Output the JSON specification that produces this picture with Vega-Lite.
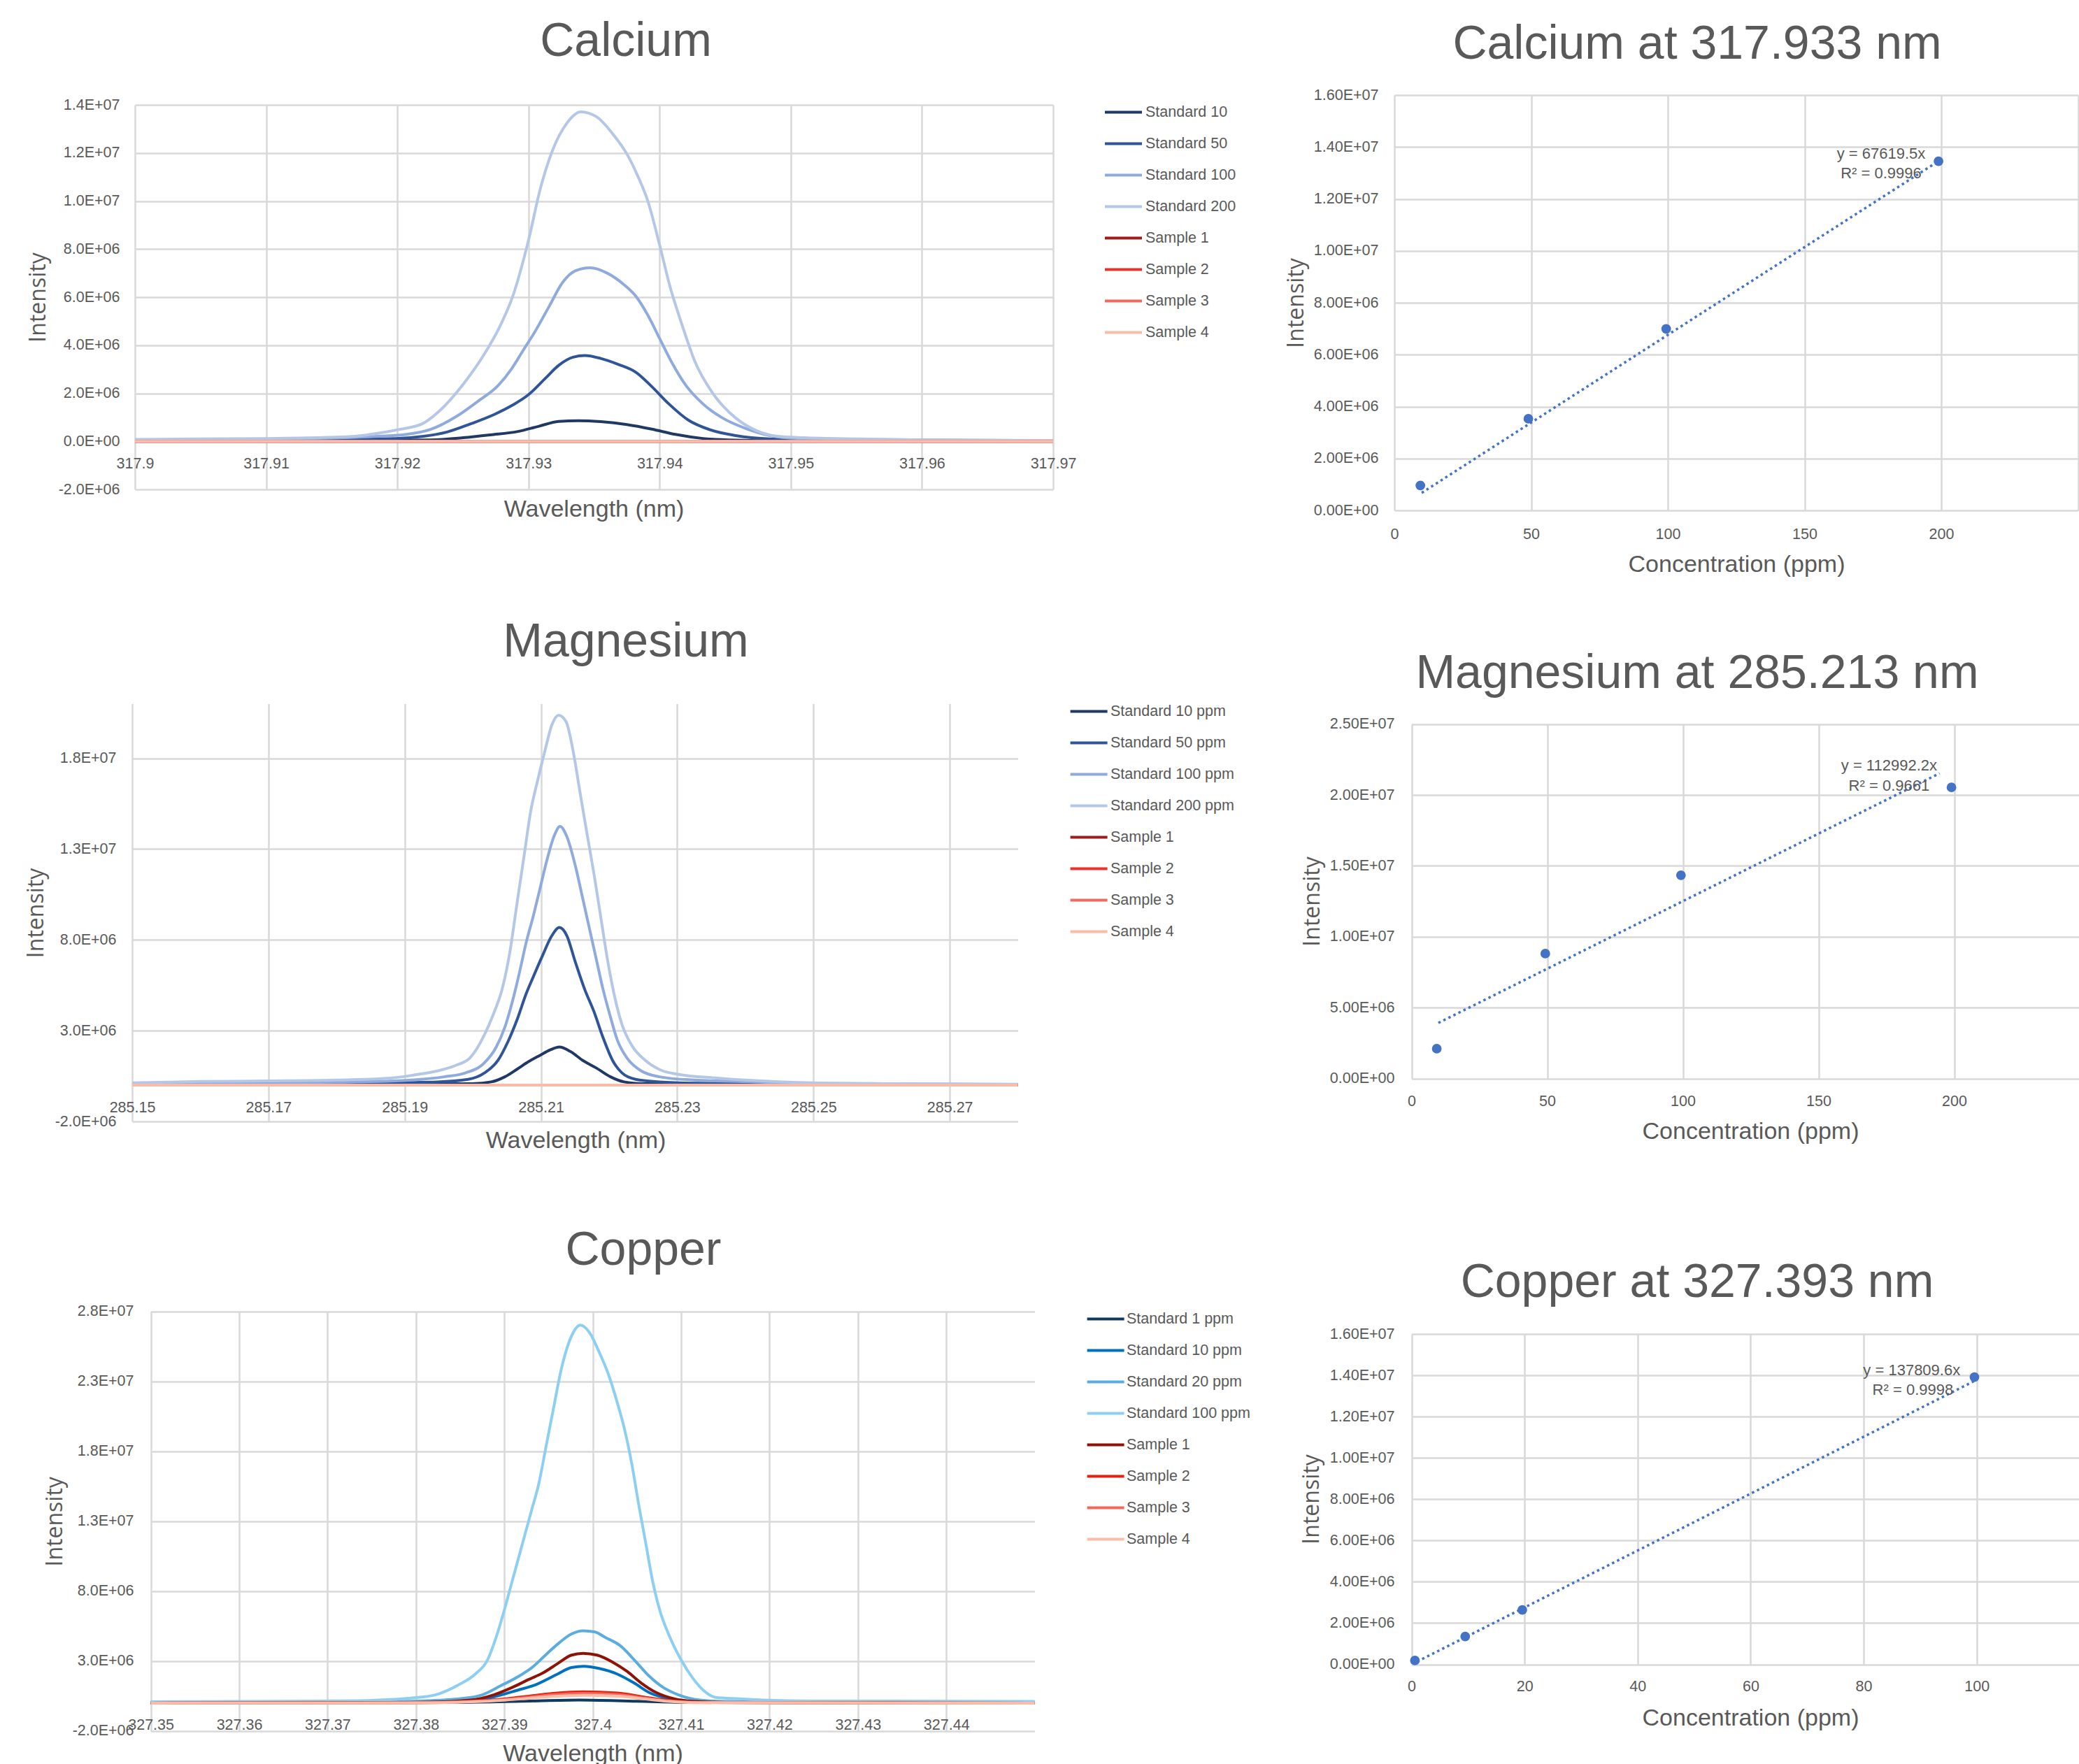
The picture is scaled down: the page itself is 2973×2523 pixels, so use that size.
{
  "$schema": "https://vega.github.io/schema/vega-lite/v6.json",
  "padding": 0,
  "background": "white",
  "columns": 2,
  "spacing": 0,
  "bounds": "flush",
  "align": "each",
  "resolve": {
    "scale": {"x": "independent", "y": "independent", "color": "independent"},
    "axis": {"x": "independent", "y": "independent"},
    "legend": {"color": "independent"}
  },
  "config": {
    "view": {"stroke": null},
    "font": "Liberation Sans",
    "axis": {
      "domain": false, "ticks": false, "tickSize": 0, "grid": true,
      "gridColor": "#D9D9D9", "gridWidth": 2.5,
      "labelFont": "Liberation Sans", "labelFontSize": 21.5, "labelColor": "#595959",
      "labelFlush": false, "labelOverlap": false, "labelBound": false,
      "titleFont": "Liberation Sans", "titleFontSize": 34, "titleFontWeight": "normal", "titleColor": "#595959"
    },
    "axisY": {"titleFont": "Open Sans", "titleFontSize": 32},
    "legend": {
      "orient": "none", "title": null, "padding": 0, "symbolType": "stroke",
      "symbolSize": 2809, "symbolStrokeWidth": 4, "labelFont": "Liberation Sans",
      "labelFontSize": 21.5, "labelColor": "#595959", "rowPadding": 6, "symbolLimit": 0, "labelLimit": 0
    },
    "title": {
      "font": "Liberation Sans", "fontSize": 68, "fontWeight": "normal", "color": "#595959",
      "anchor": "middle", "frame": "group", "offset": 0, "baseline": "middle"
    }
  },
  "datasets": {
    "ca_spec": [
      {"series":"Standard 10","wavelength":317.9,"intensity":20000},
      {"series":"Standard 10","wavelength":317.91,"intensity":25000},
      {"series":"Standard 10","wavelength":317.917,"intensity":35000},
      {"series":"Standard 10","wavelength":317.9225,"intensity":60000},
      {"series":"Standard 10","wavelength":317.925,"intensity":150000},
      {"series":"Standard 10","wavelength":317.9271,"intensity":270000},
      {"series":"Standard 10","wavelength":317.9292,"intensity":410000},
      {"series":"Standard 10","wavelength":317.9308,"intensity":630000},
      {"series":"Standard 10","wavelength":317.9323,"intensity":830000},
      {"series":"Standard 10","wavelength":317.9338,"intensity":860000},
      {"series":"Standard 10","wavelength":317.9355,"intensity":820000},
      {"series":"Standard 10","wavelength":317.9375,"intensity":700000},
      {"series":"Standard 10","wavelength":317.9394,"intensity":510000},
      {"series":"Standard 10","wavelength":317.9412,"intensity":290000},
      {"series":"Standard 10","wavelength":317.9433,"intensity":120000},
      {"series":"Standard 10","wavelength":317.9458,"intensity":50000},
      {"series":"Standard 10","wavelength":317.95,"intensity":20000},
      {"series":"Standard 10","wavelength":317.97,"intensity":10000},
      {"series":"Standard 50","wavelength":317.9,"intensity":40000},
      {"series":"Standard 50","wavelength":317.91,"intensity":60000},
      {"series":"Standard 50","wavelength":317.9199,"intensity":120000},
      {"series":"Standard 50","wavelength":317.922,"intensity":210000},
      {"series":"Standard 50","wavelength":317.9238,"intensity":390000},
      {"series":"Standard 50","wavelength":317.9256,"intensity":730000},
      {"series":"Standard 50","wavelength":317.9274,"intensity":1120000},
      {"series":"Standard 50","wavelength":317.9288,"intensity":1510000},
      {"series":"Standard 50","wavelength":317.93,"intensity":1940000},
      {"series":"Standard 50","wavelength":317.9313,"intensity":2630000},
      {"series":"Standard 50","wavelength":317.9323,"intensity":3160000},
      {"series":"Standard 50","wavelength":317.9334,"intensity":3500000},
      {"series":"Standard 50","wavelength":317.9343,"intensity":3570000},
      {"series":"Standard 50","wavelength":317.9355,"intensity":3450000},
      {"series":"Standard 50","wavelength":317.9368,"intensity":3210000},
      {"series":"Standard 50","wavelength":317.9382,"intensity":2870000},
      {"series":"Standard 50","wavelength":317.9394,"intensity":2280000},
      {"series":"Standard 50","wavelength":317.9407,"intensity":1560000},
      {"series":"Standard 50","wavelength":317.9422,"intensity":880000},
      {"series":"Standard 50","wavelength":317.9438,"intensity":490000},
      {"series":"Standard 50","wavelength":317.9458,"intensity":240000},
      {"series":"Standard 50","wavelength":317.9484,"intensity":100000},
      {"series":"Standard 50","wavelength":317.952,"intensity":60000},
      {"series":"Standard 50","wavelength":317.97,"intensity":20000},
      {"series":"Standard 100","wavelength":317.9,"intensity":60000},
      {"series":"Standard 100","wavelength":317.91,"intensity":90000},
      {"series":"Standard 100","wavelength":317.916,"intensity":150000},
      {"series":"Standard 100","wavelength":317.9186,"intensity":210000},
      {"series":"Standard 100","wavelength":317.9207,"intensity":290000},
      {"series":"Standard 100","wavelength":317.9225,"intensity":490000},
      {"series":"Standard 100","wavelength":317.9246,"intensity":1070000},
      {"series":"Standard 100","wavelength":317.9261,"intensity":1650000},
      {"series":"Standard 100","wavelength":317.9277,"intensity":2330000},
      {"series":"Standard 100","wavelength":317.9287,"intensity":3010000},
      {"series":"Standard 100","wavelength":317.9296,"intensity":3790000},
      {"series":"Standard 100","wavelength":317.9305,"intensity":4570000},
      {"series":"Standard 100","wavelength":317.9316,"intensity":5640000},
      {"series":"Standard 100","wavelength":317.9326,"intensity":6610000},
      {"series":"Standard 100","wavelength":317.9336,"intensity":7100000},
      {"series":"Standard 100","wavelength":317.9347,"intensity":7220000},
      {"series":"Standard 100","wavelength":317.936,"intensity":7000000},
      {"series":"Standard 100","wavelength":317.9373,"intensity":6510000},
      {"series":"Standard 100","wavelength":317.9382,"intensity":6030000},
      {"series":"Standard 100","wavelength":317.9391,"intensity":5250000},
      {"series":"Standard 100","wavelength":317.94,"intensity":4280000},
      {"series":"Standard 100","wavelength":317.9409,"intensity":3310000},
      {"series":"Standard 100","wavelength":317.942,"intensity":2330000},
      {"series":"Standard 100","wavelength":317.9433,"intensity":1560000},
      {"series":"Standard 100","wavelength":317.9448,"intensity":970000},
      {"series":"Standard 100","wavelength":317.9466,"intensity":530000},
      {"series":"Standard 100","wavelength":317.9484,"intensity":240000},
      {"series":"Standard 100","wavelength":317.9505,"intensity":120000},
      {"series":"Standard 100","wavelength":317.955,"intensity":80000},
      {"series":"Standard 100","wavelength":317.97,"intensity":30000},
      {"series":"Standard 200","wavelength":317.9,"intensity":80000},
      {"series":"Standard 200","wavelength":317.905,"intensity":100000},
      {"series":"Standard 200","wavelength":317.91,"intensity":120000},
      {"series":"Standard 200","wavelength":317.9147,"intensity":165000},
      {"series":"Standard 200","wavelength":317.9168,"intensity":210000},
      {"series":"Standard 200","wavelength":317.9186,"intensity":340000},
      {"series":"Standard 200","wavelength":317.9201,"intensity":490000},
      {"series":"Standard 200","wavelength":317.9219,"intensity":730000},
      {"series":"Standard 200","wavelength":317.9232,"intensity":1260000},
      {"series":"Standard 200","wavelength":317.9251,"intensity":2430000},
      {"series":"Standard 200","wavelength":317.9266,"intensity":3600000},
      {"series":"Standard 200","wavelength":317.9278,"intensity":4760000},
      {"series":"Standard 200","wavelength":317.9288,"intensity":6030000},
      {"series":"Standard 200","wavelength":317.93,"intensity":8360000},
      {"series":"Standard 200","wavelength":317.9309,"intensity":10500000},
      {"series":"Standard 200","wavelength":317.9318,"intensity":12060000},
      {"series":"Standard 200","wavelength":317.9329,"intensity":13220000},
      {"series":"Standard 200","wavelength":317.934,"intensity":13710000},
      {"series":"Standard 200","wavelength":317.9352,"intensity":13500000},
      {"series":"Standard 200","wavelength":317.9365,"intensity":12740000},
      {"series":"Standard 200","wavelength":317.9375,"intensity":11960000},
      {"series":"Standard 200","wavelength":317.9383,"intensity":11080000},
      {"series":"Standard 200","wavelength":317.9391,"intensity":10000000},
      {"series":"Standard 200","wavelength":317.94,"intensity":8170000},
      {"series":"Standard 200","wavelength":317.9408,"intensity":6420000},
      {"series":"Standard 200","wavelength":317.9417,"intensity":4860000},
      {"series":"Standard 200","wavelength":317.9427,"intensity":3310000},
      {"series":"Standard 200","wavelength":317.944,"intensity":2040000},
      {"series":"Standard 200","wavelength":317.9458,"intensity":970000},
      {"series":"Standard 200","wavelength":317.9474,"intensity":440000},
      {"series":"Standard 200","wavelength":317.949,"intensity":210000},
      {"series":"Standard 200","wavelength":317.951,"intensity":150000},
      {"series":"Standard 200","wavelength":317.9552,"intensity":100000},
      {"series":"Standard 200","wavelength":317.96,"intensity":60000},
      {"series":"Standard 200","wavelength":317.97,"intensity":40000},
      {"series":"Sample 1","wavelength":317.9,"intensity":0},
      {"series":"Sample 1","wavelength":317.97,"intensity":0},
      {"series":"Sample 2","wavelength":317.9,"intensity":0},
      {"series":"Sample 2","wavelength":317.97,"intensity":0},
      {"series":"Sample 3","wavelength":317.9,"intensity":0},
      {"series":"Sample 3","wavelength":317.97,"intensity":0},
      {"series":"Sample 4","wavelength":317.9,"intensity":0},
      {"series":"Sample 4","wavelength":317.97,"intensity":0}
    ],
    "mg_spec": [
      {"series":"Standard 10 ppm","wavelength":285.15,"intensity":20000},
      {"series":"Standard 10 ppm","wavelength":285.18,"intensity":40000},
      {"series":"Standard 10 ppm","wavelength":285.1999,"intensity":80000},
      {"series":"Standard 10 ppm","wavelength":285.2027,"intensity":180000},
      {"series":"Standard 10 ppm","wavelength":285.2047,"intensity":460000},
      {"series":"Standard 10 ppm","wavelength":285.2065,"intensity":880000},
      {"series":"Standard 10 ppm","wavelength":285.2082,"intensity":1300000},
      {"series":"Standard 10 ppm","wavelength":285.2099,"intensity":1650000},
      {"series":"Standard 10 ppm","wavelength":285.2113,"intensity":1930000},
      {"series":"Standard 10 ppm","wavelength":285.2127,"intensity":2100000},
      {"series":"Standard 10 ppm","wavelength":285.2143,"intensity":1860000},
      {"series":"Standard 10 ppm","wavelength":285.2161,"intensity":1370000},
      {"series":"Standard 10 ppm","wavelength":285.2181,"intensity":950000},
      {"series":"Standard 10 ppm","wavelength":285.2202,"intensity":460000},
      {"series":"Standard 10 ppm","wavelength":285.2222,"intensity":180000},
      {"series":"Standard 10 ppm","wavelength":285.225,"intensity":80000},
      {"series":"Standard 10 ppm","wavelength":285.24,"intensity":30000},
      {"series":"Standard 10 ppm","wavelength":285.28,"intensity":10000},
      {"series":"Standard 50 ppm","wavelength":285.15,"intensity":50000},
      {"series":"Standard 50 ppm","wavelength":285.17,"intensity":80000},
      {"series":"Standard 50 ppm","wavelength":285.185,"intensity":130000},
      {"series":"Standard 50 ppm","wavelength":285.1948,"intensity":180000},
      {"series":"Standard 50 ppm","wavelength":285.1993,"intensity":320000},
      {"series":"Standard 50 ppm","wavelength":285.2017,"intensity":670000},
      {"series":"Standard 50 ppm","wavelength":285.2037,"intensity":1370000},
      {"series":"Standard 50 ppm","wavelength":285.2051,"intensity":2350000},
      {"series":"Standard 50 ppm","wavelength":285.2065,"intensity":3610000},
      {"series":"Standard 50 ppm","wavelength":285.2078,"intensity":5010000},
      {"series":"Standard 50 ppm","wavelength":285.2089,"intensity":5990000},
      {"series":"Standard 50 ppm","wavelength":285.2102,"intensity":7110000},
      {"series":"Standard 50 ppm","wavelength":285.2116,"intensity":8230000},
      {"series":"Standard 50 ppm","wavelength":285.2127,"intensity":8680000},
      {"series":"Standard 50 ppm","wavelength":285.2138,"intensity":8230000},
      {"series":"Standard 50 ppm","wavelength":285.215,"intensity":6830000},
      {"series":"Standard 50 ppm","wavelength":285.2164,"intensity":5290000},
      {"series":"Standard 50 ppm","wavelength":285.2178,"intensity":4030000},
      {"series":"Standard 50 ppm","wavelength":285.2191,"intensity":2630000},
      {"series":"Standard 50 ppm","wavelength":285.2205,"intensity":1370000},
      {"series":"Standard 50 ppm","wavelength":285.2219,"intensity":670000},
      {"series":"Standard 50 ppm","wavelength":285.2239,"intensity":320000},
      {"series":"Standard 50 ppm","wavelength":285.2274,"intensity":180000},
      {"series":"Standard 50 ppm","wavelength":285.2325,"intensity":110000},
      {"series":"Standard 50 ppm","wavelength":285.25,"intensity":60000},
      {"series":"Standard 50 ppm","wavelength":285.28,"intensity":30000},
      {"series":"Standard 100 ppm","wavelength":285.15,"intensity":80000},
      {"series":"Standard 100 ppm","wavelength":285.17,"intensity":130000},
      {"series":"Standard 100 ppm","wavelength":285.18,"intensity":170000},
      {"series":"Standard 100 ppm","wavelength":285.1879,"intensity":220000},
      {"series":"Standard 100 ppm","wavelength":285.1914,"intensity":290000},
      {"series":"Standard 100 ppm","wavelength":285.1958,"intensity":460000},
      {"series":"Standard 100 ppm","wavelength":285.1989,"intensity":670000},
      {"series":"Standard 100 ppm","wavelength":285.2017,"intensity":1230000},
      {"series":"Standard 100 ppm","wavelength":285.2034,"intensity":2070000},
      {"series":"Standard 100 ppm","wavelength":285.2047,"intensity":3190000},
      {"series":"Standard 100 ppm","wavelength":285.2058,"intensity":4590000},
      {"series":"Standard 100 ppm","wavelength":285.2068,"intensity":6130000},
      {"series":"Standard 100 ppm","wavelength":285.2078,"intensity":7810000},
      {"series":"Standard 100 ppm","wavelength":285.2089,"intensity":9350000},
      {"series":"Standard 100 ppm","wavelength":285.2099,"intensity":10890000},
      {"series":"Standard 100 ppm","wavelength":285.2109,"intensity":12430000},
      {"series":"Standard 100 ppm","wavelength":285.2119,"intensity":13690000},
      {"series":"Standard 100 ppm","wavelength":285.2128,"intensity":14250000},
      {"series":"Standard 100 ppm","wavelength":285.2138,"intensity":13690000},
      {"series":"Standard 100 ppm","wavelength":285.215,"intensity":12150000},
      {"series":"Standard 100 ppm","wavelength":285.2161,"intensity":10330000},
      {"series":"Standard 100 ppm","wavelength":285.2171,"intensity":8650000},
      {"series":"Standard 100 ppm","wavelength":285.2181,"intensity":6970000},
      {"series":"Standard 100 ppm","wavelength":285.2191,"intensity":5290000},
      {"series":"Standard 100 ppm","wavelength":285.2202,"intensity":3750000},
      {"series":"Standard 100 ppm","wavelength":285.2212,"intensity":2490000},
      {"series":"Standard 100 ppm","wavelength":285.2226,"intensity":1510000},
      {"series":"Standard 100 ppm","wavelength":285.2246,"intensity":810000},
      {"series":"Standard 100 ppm","wavelength":285.2274,"intensity":460000},
      {"series":"Standard 100 ppm","wavelength":285.2325,"intensity":280000},
      {"series":"Standard 100 ppm","wavelength":285.2414,"intensity":180000},
      {"series":"Standard 100 ppm","wavelength":285.25,"intensity":100000},
      {"series":"Standard 100 ppm","wavelength":285.28,"intensity":40000},
      {"series":"Standard 200 ppm","wavelength":285.15,"intensity":125000},
      {"series":"Standard 200 ppm","wavelength":285.16,"intensity":200000},
      {"series":"Standard 200 ppm","wavelength":285.17,"intensity":230000},
      {"series":"Standard 200 ppm","wavelength":285.18,"intensity":280000},
      {"series":"Standard 200 ppm","wavelength":285.1879,"intensity":390000},
      {"series":"Standard 200 ppm","wavelength":285.1914,"intensity":560000},
      {"series":"Standard 200 ppm","wavelength":285.1948,"intensity":780000},
      {"series":"Standard 200 ppm","wavelength":285.1975,"intensity":1090000},
      {"series":"Standard 200 ppm","wavelength":285.1996,"intensity":1510000},
      {"series":"Standard 200 ppm","wavelength":285.2017,"intensity":2770000},
      {"series":"Standard 200 ppm","wavelength":285.203,"intensity":3890000},
      {"series":"Standard 200 ppm","wavelength":285.2044,"intensity":5430000},
      {"series":"Standard 200 ppm","wavelength":285.2054,"intensity":7250000},
      {"series":"Standard 200 ppm","wavelength":285.2065,"intensity":10050000},
      {"series":"Standard 200 ppm","wavelength":285.2075,"intensity":12570000},
      {"series":"Standard 200 ppm","wavelength":285.2085,"intensity":15090000},
      {"series":"Standard 200 ppm","wavelength":285.2095,"intensity":16760000},
      {"series":"Standard 200 ppm","wavelength":285.2106,"intensity":18440000},
      {"series":"Standard 200 ppm","wavelength":285.2116,"intensity":19840000},
      {"series":"Standard 200 ppm","wavelength":285.2126,"intensity":20370000},
      {"series":"Standard 200 ppm","wavelength":285.2137,"intensity":20000000},
      {"series":"Standard 200 ppm","wavelength":285.2147,"intensity":18440000},
      {"series":"Standard 200 ppm","wavelength":285.2157,"intensity":16200000},
      {"series":"Standard 200 ppm","wavelength":285.2167,"intensity":13970000},
      {"series":"Standard 200 ppm","wavelength":285.2178,"intensity":11590000},
      {"series":"Standard 200 ppm","wavelength":285.2188,"intensity":9200000},
      {"series":"Standard 200 ppm","wavelength":285.2198,"intensity":6830000},
      {"series":"Standard 200 ppm","wavelength":285.2209,"intensity":4730000},
      {"series":"Standard 200 ppm","wavelength":285.2219,"intensity":3330000},
      {"series":"Standard 200 ppm","wavelength":285.2233,"intensity":2210000},
      {"series":"Standard 200 ppm","wavelength":285.2253,"intensity":1370000},
      {"series":"Standard 200 ppm","wavelength":285.2277,"intensity":810000},
      {"series":"Standard 200 ppm","wavelength":285.2301,"intensity":600000},
      {"series":"Standard 200 ppm","wavelength":285.2359,"intensity":390000},
      {"series":"Standard 200 ppm","wavelength":285.2414,"intensity":250000},
      {"series":"Standard 200 ppm","wavelength":285.25,"intensity":125000},
      {"series":"Standard 200 ppm","wavelength":285.26,"intensity":80000},
      {"series":"Standard 200 ppm","wavelength":285.28,"intensity":50000},
      {"series":"Sample 1","wavelength":285.15,"intensity":0},
      {"series":"Sample 1","wavelength":285.28,"intensity":0},
      {"series":"Sample 2","wavelength":285.15,"intensity":0},
      {"series":"Sample 2","wavelength":285.28,"intensity":0},
      {"series":"Sample 3","wavelength":285.15,"intensity":0},
      {"series":"Sample 3","wavelength":285.28,"intensity":0},
      {"series":"Sample 4","wavelength":285.15,"intensity":0},
      {"series":"Sample 4","wavelength":285.28,"intensity":0}
    ],
    "cu_spec": [
      {"series":"Standard 1 ppm","wavelength":327.35,"intensity":10000},
      {"series":"Standard 1 ppm","wavelength":327.385,"intensity":50000},
      {"series":"Standard 1 ppm","wavelength":327.392,"intensity":130000},
      {"series":"Standard 1 ppm","wavelength":327.3985,"intensity":220000},
      {"series":"Standard 1 ppm","wavelength":327.405,"intensity":130000},
      {"series":"Standard 1 ppm","wavelength":327.412,"intensity":40000},
      {"series":"Standard 1 ppm","wavelength":327.45,"intensity":10000},
      {"series":"Standard 10 ppm","wavelength":327.35,"intensity":30000},
      {"series":"Standard 10 ppm","wavelength":327.38,"intensity":100000},
      {"series":"Standard 10 ppm","wavelength":327.3862,"intensity":220000},
      {"series":"Standard 10 ppm","wavelength":327.3886,"intensity":410000},
      {"series":"Standard 10 ppm","wavelength":327.3912,"intensity":870000},
      {"series":"Standard 10 ppm","wavelength":327.3936,"intensity":1330000},
      {"series":"Standard 10 ppm","wavelength":327.396,"intensity":2070000},
      {"series":"Standard 10 ppm","wavelength":327.3976,"intensity":2540000},
      {"series":"Standard 10 ppm","wavelength":327.399,"intensity":2630000},
      {"series":"Standard 10 ppm","wavelength":327.4007,"intensity":2480000},
      {"series":"Standard 10 ppm","wavelength":327.4028,"intensity":2070000},
      {"series":"Standard 10 ppm","wavelength":327.4047,"intensity":1430000},
      {"series":"Standard 10 ppm","wavelength":327.4065,"intensity":720000},
      {"series":"Standard 10 ppm","wavelength":327.4087,"intensity":310000},
      {"series":"Standard 10 ppm","wavelength":327.4113,"intensity":130000},
      {"series":"Standard 10 ppm","wavelength":327.415,"intensity":70000},
      {"series":"Standard 10 ppm","wavelength":327.45,"intensity":30000},
      {"series":"Standard 20 ppm","wavelength":327.35,"intensity":50000},
      {"series":"Standard 20 ppm","wavelength":327.37,"intensity":80000},
      {"series":"Standard 20 ppm","wavelength":327.38,"intensity":150000},
      {"series":"Standard 20 ppm","wavelength":327.3849,"intensity":310000},
      {"series":"Standard 20 ppm","wavelength":327.3875,"intensity":590000},
      {"series":"Standard 20 ppm","wavelength":327.3896,"intensity":1240000},
      {"series":"Standard 20 ppm","wavelength":327.3918,"intensity":1980000},
      {"series":"Standard 20 ppm","wavelength":327.3933,"intensity":2630000},
      {"series":"Standard 20 ppm","wavelength":327.3944,"intensity":3280000},
      {"series":"Standard 20 ppm","wavelength":327.396,"intensity":4200000},
      {"series":"Standard 20 ppm","wavelength":327.3976,"intensity":4940000},
      {"series":"Standard 20 ppm","wavelength":327.3989,"intensity":5170000},
      {"series":"Standard 20 ppm","wavelength":327.4002,"intensity":5090000},
      {"series":"Standard 20 ppm","wavelength":327.4015,"intensity":4670000},
      {"series":"Standard 20 ppm","wavelength":327.4031,"intensity":4110000},
      {"series":"Standard 20 ppm","wavelength":327.4047,"intensity":3090000},
      {"series":"Standard 20 ppm","wavelength":327.4063,"intensity":1980000},
      {"series":"Standard 20 ppm","wavelength":327.4079,"intensity":1150000},
      {"series":"Standard 20 ppm","wavelength":327.4097,"intensity":590000},
      {"series":"Standard 20 ppm","wavelength":327.4121,"intensity":220000},
      {"series":"Standard 20 ppm","wavelength":327.415,"intensity":120000},
      {"series":"Standard 20 ppm","wavelength":327.45,"intensity":60000},
      {"series":"Standard 100 ppm","wavelength":327.35,"intensity":100000},
      {"series":"Standard 100 ppm","wavelength":327.36,"intensity":120000},
      {"series":"Standard 100 ppm","wavelength":327.37,"intensity":150000},
      {"series":"Standard 100 ppm","wavelength":327.375,"intensity":200000},
      {"series":"Standard 100 ppm","wavelength":327.3796,"intensity":370000},
      {"series":"Standard 100 ppm","wavelength":327.3822,"intensity":590000},
      {"series":"Standard 100 ppm","wavelength":327.3849,"intensity":1330000},
      {"series":"Standard 100 ppm","wavelength":327.3867,"intensity":2070000},
      {"series":"Standard 100 ppm","wavelength":327.3881,"intensity":3090000},
      {"series":"Standard 100 ppm","wavelength":327.3891,"intensity":4760000},
      {"series":"Standard 100 ppm","wavelength":327.3899,"intensity":6430000},
      {"series":"Standard 100 ppm","wavelength":327.3907,"intensity":8280000},
      {"series":"Standard 100 ppm","wavelength":327.3915,"intensity":10130000},
      {"series":"Standard 100 ppm","wavelength":327.3923,"intensity":11980000},
      {"series":"Standard 100 ppm","wavelength":327.3931,"intensity":13830000},
      {"series":"Standard 100 ppm","wavelength":327.3939,"intensity":15690000},
      {"series":"Standard 100 ppm","wavelength":327.3947,"intensity":18280000},
      {"series":"Standard 100 ppm","wavelength":327.3955,"intensity":20870000},
      {"series":"Standard 100 ppm","wavelength":327.3965,"intensity":24020000},
      {"series":"Standard 100 ppm","wavelength":327.3976,"intensity":26240000},
      {"series":"Standard 100 ppm","wavelength":327.3986,"intensity":27020000},
      {"series":"Standard 100 ppm","wavelength":327.3997,"intensity":26430000},
      {"series":"Standard 100 ppm","wavelength":327.4007,"intensity":25130000},
      {"series":"Standard 100 ppm","wavelength":327.4018,"intensity":23460000},
      {"series":"Standard 100 ppm","wavelength":327.4028,"intensity":21430000},
      {"series":"Standard 100 ppm","wavelength":327.4036,"intensity":19570000},
      {"series":"Standard 100 ppm","wavelength":327.4044,"intensity":17170000},
      {"series":"Standard 100 ppm","wavelength":327.4052,"intensity":14200000},
      {"series":"Standard 100 ppm","wavelength":327.406,"intensity":11430000},
      {"series":"Standard 100 ppm","wavelength":327.4068,"intensity":8650000},
      {"series":"Standard 100 ppm","wavelength":327.4076,"intensity":6610000},
      {"series":"Standard 100 ppm","wavelength":327.4087,"intensity":4760000},
      {"series":"Standard 100 ppm","wavelength":327.41,"intensity":3090000},
      {"series":"Standard 100 ppm","wavelength":327.4113,"intensity":1800000},
      {"series":"Standard 100 ppm","wavelength":327.4126,"intensity":870000},
      {"series":"Standard 100 ppm","wavelength":327.4139,"intensity":410000},
      {"series":"Standard 100 ppm","wavelength":327.4166,"intensity":310000},
      {"series":"Standard 100 ppm","wavelength":327.4192,"intensity":220000},
      {"series":"Standard 100 ppm","wavelength":327.425,"intensity":150000},
      {"series":"Standard 100 ppm","wavelength":327.45,"intensity":120000},
      {"series":"Sample 1","wavelength":327.35,"intensity":0},
      {"series":"Sample 1","wavelength":327.38,"intensity":50000},
      {"series":"Sample 1","wavelength":327.3862,"intensity":220000},
      {"series":"Sample 1","wavelength":327.3888,"intensity":590000},
      {"series":"Sample 1","wavelength":327.391,"intensity":1150000},
      {"series":"Sample 1","wavelength":327.3928,"intensity":1700000},
      {"series":"Sample 1","wavelength":327.3944,"intensity":2170000},
      {"series":"Sample 1","wavelength":327.396,"intensity":2810000},
      {"series":"Sample 1","wavelength":327.3976,"intensity":3430000},
      {"series":"Sample 1","wavelength":327.3989,"intensity":3560000},
      {"series":"Sample 1","wavelength":327.4005,"intensity":3430000},
      {"series":"Sample 1","wavelength":327.4023,"intensity":2910000},
      {"series":"Sample 1","wavelength":327.4039,"intensity":2260000},
      {"series":"Sample 1","wavelength":327.4055,"intensity":1430000},
      {"series":"Sample 1","wavelength":327.4071,"intensity":780000},
      {"series":"Sample 1","wavelength":327.4092,"intensity":310000},
      {"series":"Sample 1","wavelength":327.4113,"intensity":130000},
      {"series":"Sample 1","wavelength":327.415,"intensity":50000},
      {"series":"Sample 1","wavelength":327.45,"intensity":0},
      {"series":"Sample 2","wavelength":327.35,"intensity":0},
      {"series":"Sample 2","wavelength":327.38,"intensity":30000},
      {"series":"Sample 2","wavelength":327.3862,"intensity":130000},
      {"series":"Sample 2","wavelength":327.3902,"intensity":310000},
      {"series":"Sample 2","wavelength":327.3928,"intensity":500000},
      {"series":"Sample 2","wavelength":327.3955,"intensity":690000},
      {"series":"Sample 2","wavelength":327.3989,"intensity":810000},
      {"series":"Sample 2","wavelength":327.4028,"intensity":720000},
      {"series":"Sample 2","wavelength":327.406,"intensity":410000},
      {"series":"Sample 2","wavelength":327.4087,"intensity":170000},
      {"series":"Sample 2","wavelength":327.412,"intensity":50000},
      {"series":"Sample 2","wavelength":327.45,"intensity":0},
      {"series":"Sample 3","wavelength":327.35,"intensity":0},
      {"series":"Sample 3","wavelength":327.38,"intensity":20000},
      {"series":"Sample 3","wavelength":327.3862,"intensity":110000},
      {"series":"Sample 3","wavelength":327.3902,"intensity":260000},
      {"series":"Sample 3","wavelength":327.3928,"intensity":420000},
      {"series":"Sample 3","wavelength":327.3955,"intensity":590000},
      {"series":"Sample 3","wavelength":327.3989,"intensity":690000},
      {"series":"Sample 3","wavelength":327.4028,"intensity":610000},
      {"series":"Sample 3","wavelength":327.406,"intensity":350000},
      {"series":"Sample 3","wavelength":327.4087,"intensity":140000},
      {"series":"Sample 3","wavelength":327.412,"intensity":40000},
      {"series":"Sample 3","wavelength":327.45,"intensity":0},
      {"series":"Sample 4","wavelength":327.35,"intensity":0},
      {"series":"Sample 4","wavelength":327.38,"intensity":15000},
      {"series":"Sample 4","wavelength":327.3862,"intensity":90000},
      {"series":"Sample 4","wavelength":327.3902,"intensity":220000},
      {"series":"Sample 4","wavelength":327.3928,"intensity":350000},
      {"series":"Sample 4","wavelength":327.3955,"intensity":480000},
      {"series":"Sample 4","wavelength":327.3989,"intensity":560000},
      {"series":"Sample 4","wavelength":327.4028,"intensity":500000},
      {"series":"Sample 4","wavelength":327.406,"intensity":290000},
      {"series":"Sample 4","wavelength":327.4087,"intensity":120000},
      {"series":"Sample 4","wavelength":327.412,"intensity":30000},
      {"series":"Sample 4","wavelength":327.45,"intensity":0}
    ],
    "ca_cal": [
      {"conc":9.5,"intensity":960000},{"conc":49,"intensity":3530000},{"conc":99.4,"intensity":6990000},{"conc":199,"intensity":13450000}
    ],
    "ca_fit": [{"conc":10,"intensity":676000},{"conc":199,"intensity":13456000}],
    "ca_eq": [{"conc":178,"intensity":13750000,"label":"y = 67619.5x"},{"conc":178,"intensity":12980000,"label":"R² = 0.9996"}],
    "mg_cal": [
      {"conc":9.3,"intensity":2100000},{"conc":49.3,"intensity":8810000},{"conc":99.3,"intensity":14340000},{"conc":199,"intensity":20540000}
    ],
    "mg_fit": [{"conc":9.9,"intensity":3920000},{"conc":194.6,"intensity":21530000}],
    "mg_eq": [{"conc":176,"intensity":22090000,"label":"y = 112992.2x"},{"conc":176,"intensity":20660000,"label":"R² = 0.9661"}],
    "cu_cal": [
      {"conc":0.6,"intensity":190000},{"conc":9.5,"intensity":1348000},{"conc":19.6,"intensity":2635000},{"conc":99.6,"intensity":13910000}
    ],
    "cu_fit": [{"conc":1,"intensity":138000},{"conc":99.6,"intensity":13726000}],
    "cu_eq": [{"conc":88.5,"intensity":14240000,"label":"y = 137809.6x"},{"conc":88.7,"intensity":13280000,"label":"R² = 0.9998"}]
  },
  "concat": [
    {
      "width": 1820, "height": 860,
      "data": {"name": "ca_spec"},
      "title": {"text": "Calcium", "dx": -15, "dy": 98},
      "mark": {"type": "line", "interpolate": "monotone", "strokeWidth": 4},
      "encoding": {
        "x": {"field": "wavelength", "type": "quantitative",
          "scale": {"domain": [317.9, 317.97], "range": [193, 1506], "nice": false, "zero": false},
          "axis": {"orient": "top", "title": "Wavelength (nm)", "values": [317.9, 317.91, 317.92, 317.93, 317.94, 317.95, 317.96, 317.97], "format": "~f",
            "labelPadding": -663.5, "labelBaseline": "middle", "titleX": 849, "titleY": 728, "titleBaseline": "middle", "titleAlign": "center"}},
        "y": {"field": "intensity", "type": "quantitative",
          "scale": {"domain": [-2000000, 14000000], "range": [700, 150], "nice": false, "zero": false},
          "axis": {"title": "Intensity", "values": [-2000000, 0, 2000000, 4000000, 6000000, 8000000, 10000000, 12000000, 14000000],
            "labelExpr": "replace(replace(replace(format(datum.value, '.1e'), '−', '-'), regexp('e[+]([0-9])$'), 'E+0$1'), regexp('e-([0-9])$'), 'E-0$1')",
            "labelPadding": -171, "titleX": 54, "titleY": 425, "titleBaseline": "middle", "titleAlign": "center", "titleAngle": -90}},
        "color": {"field": "series", "type": "nominal",
          "scale": {"domain": ["Standard 10", "Standard 50", "Standard 100", "Standard 200", "Sample 1", "Sample 2", "Sample 3", "Sample 4"],
            "range": ["#1F3864", "#2F5597", "#8FAADC", "#B4C7E7", "#9E1B1B", "#E8322E", "#EF6A5F", "#FCBBA9"]},
          "legend": {"legendX": 1578, "legendY": 132, "labelOffset": 3}}
      }
    },
    {
      "width": 1180, "height": 860,
      "title": {"text": "Calcium at 317.933 nm", "dx": 17, "dy": 102},
      "layer": [
        {
          "data": {"name": "ca_fit"},
          "mark": {"type": "line", "color": "#4472C4", "strokeWidth": 3.5, "strokeDash": [3.5, 4.5]},
          "encoding": {
            "x": {"field": "conc", "type": "quantitative", "scale": {"domain": [0, 250], "range": [174, 1151.5], "nice": false, "zero": false},
              "axis": {"orient": "top", "title": "Concentration (ppm)", "values": [0, 50, 100, 150, 200, 250], "labelExpr": "datum.value == 250 ? '' : datum.label",
                "labelPadding": -764, "labelBaseline": "middle", "titleX": 663, "titleY": 807, "titleBaseline": "middle", "titleAlign": "center"}},
            "y": {"field": "intensity", "type": "quantitative", "scale": {"domain": [0, 16000000], "range": [730, 136], "nice": false, "zero": false},
              "axis": {"title": "Intensity", "values": [0, 2000000, 4000000, 6000000, 8000000, 10000000, 12000000, 14000000, 16000000],
                "labelExpr": "replace(replace(replace(format(datum.value, '.2e'), '−', '-'), regexp('e[+]([0-9])$'), 'E+0$1'), regexp('e-([0-9])$'), 'E-0$1')",
                "labelPadding": -151, "titleX": 33, "titleY": 433, "titleBaseline": "middle", "titleAlign": "center", "titleAngle": -90}}
          }
        },
        {
          "data": {"name": "ca_cal"},
          "mark": {"type": "circle", "color": "#4472C4", "size": 190, "opacity": 1},
          "encoding": {
            "x": {"field": "conc", "type": "quantitative"},
            "y": {"field": "intensity", "type": "quantitative"}
          }
        },
        {
          "data": {"name": "ca_eq"},
          "mark": {"type": "text", "fontSize": 22, "color": "#595959", "font": "Liberation Sans", "align": "center", "baseline": "middle"},
          "encoding": {
            "x": {"field": "conc", "type": "quantitative"},
            "y": {"field": "intensity", "type": "quantitative"},
            "text": {"field": "label"}
          }
        }
      ]
    },
    {
      "width": 1820, "height": 880,
      "data": {"name": "mg_spec"},
      "title": {"text": "Magnesium", "dx": -15, "dy": 97},
      "mark": {"type": "line", "interpolate": "monotone", "strokeWidth": 4},
      "encoding": {
        "x": {"field": "wavelength", "type": "quantitative",
          "scale": {"domain": [285.15, 285.28], "range": [189, 1455.6], "nice": false, "zero": false},
          "axis": {"orient": "top", "title": "Wavelength (nm)", "values": [285.15, 285.17, 285.19, 285.21, 285.23, 285.25, 285.27], "format": "~f",
            "labelPadding": -724, "labelBaseline": "middle", "titleX": 823, "titleY": 771, "titleBaseline": "middle", "titleAlign": "center"}},
        "y": {"field": "intensity", "type": "quantitative",
          "scale": {"domain": [-2000000, 21000000], "range": [744, 146.6], "nice": false, "zero": false},
          "axis": {"title": "Intensity", "values": [-2000000, 3000000, 8000000, 13000000, 18000000],
            "labelExpr": "replace(replace(replace(format(datum.value, '.1e'), '−', '-'), regexp('e[+]([0-9])$'), 'E+0$1'), regexp('e-([0-9])$'), 'E-0$1')",
            "labelPadding": -166, "titleX": 51, "titleY": 445.5, "titleBaseline": "middle", "titleAlign": "center", "titleAngle": -90}},
        "color": {"field": "series", "type": "nominal",
          "scale": {"domain": ["Standard 10 ppm", "Standard 50 ppm", "Standard 100 ppm", "Standard 200 ppm", "Sample 1", "Sample 2", "Sample 3", "Sample 4"],
            "range": ["#1F3864", "#2F5597", "#8FAADC", "#B4C7E7", "#9E1B1B", "#E8322E", "#EF6A5F", "#FCBBA9"]},
          "legend": {"legendX": 1528.6, "legendY": 129, "labelOffset": 2.4}}
      }
    },
    {
      "width": 1180, "height": 880,
      "title": {"text": "Magnesium at 285.213 nm", "dx": 17, "dy": 142},
      "layer": [
        {
          "data": {"name": "mg_fit"},
          "mark": {"type": "line", "color": "#4472C4", "strokeWidth": 3.5, "strokeDash": [3.5, 4.5]},
          "encoding": {
            "x": {"field": "conc", "type": "quantitative", "scale": {"domain": [0, 246], "range": [198.5, 1153], "nice": false, "zero": false},
              "axis": {"orient": "top", "title": "Concentration (ppm)", "values": [0, 50, 100, 150, 200],
                "labelPadding": -715, "labelBaseline": "middle", "titleX": 683, "titleY": 758, "titleBaseline": "middle", "titleAlign": "center"}},
            "y": {"field": "intensity", "type": "quantitative", "scale": {"domain": [0, 25000000], "range": [682.5, 175.8], "nice": false, "zero": false},
              "axis": {"title": "Intensity", "values": [0, 5000000, 10000000, 15000000, 20000000, 25000000],
                "labelExpr": "replace(replace(replace(format(datum.value, '.2e'), '−', '-'), regexp('e[+]([0-9])$'), 'E+0$1'), regexp('e-([0-9])$'), 'E-0$1')",
                "labelPadding": -174, "titleX": 56.6, "titleY": 429, "titleBaseline": "middle", "titleAlign": "center", "titleAngle": -90}}
          }
        },
        {
          "data": {"name": "mg_cal"},
          "mark": {"type": "circle", "color": "#4472C4", "size": 190, "opacity": 1},
          "encoding": {
            "x": {"field": "conc", "type": "quantitative"},
            "y": {"field": "intensity", "type": "quantitative"}
          }
        },
        {
          "data": {"name": "mg_eq"},
          "mark": {"type": "text", "fontSize": 22, "color": "#595959", "font": "Liberation Sans", "align": "center", "baseline": "middle"},
          "encoding": {
            "x": {"field": "conc", "type": "quantitative"},
            "y": {"field": "intensity", "type": "quantitative"},
            "text": {"field": "label"}
          }
        }
      ]
    },
    {
      "width": 1820, "height": 783,
      "data": {"name": "cu_spec"},
      "title": {"text": "Copper", "dx": 10, "dy": 87},
      "mark": {"type": "line", "interpolate": "monotone", "strokeWidth": 4},
      "encoding": {
        "x": {"field": "wavelength", "type": "quantitative",
          "scale": {"domain": [327.35, 327.45], "range": [215.6, 1479.6], "nice": false, "zero": false},
          "axis": {"orient": "top", "title": "Wavelength (nm)", "values": [327.35, 327.36, 327.37, 327.38, 327.39, 327.4, 327.41, 327.42, 327.43, 327.44], "format": "~f",
            "labelPadding": -727, "labelBaseline": "middle", "titleX": 847.5, "titleY": 768, "titleBaseline": "middle", "titleAlign": "center"}},
        "y": {"field": "intensity", "type": "quantitative",
          "scale": {"domain": [-2000000, 28000000], "range": [735.9, 135.7], "nice": false, "zero": false},
          "axis": {"title": "Intensity", "values": [-2000000, 3000000, 8000000, 13000000, 18000000, 23000000, 28000000],
            "labelExpr": "replace(replace(replace(format(datum.value, '.1e'), '−', '-'), regexp('e[+]([0-9])$'), 'E+0$1'), regexp('e-([0-9])$'), 'E-0$1')",
            "labelPadding": -191, "titleX": 78, "titleY": 435.8, "titleBaseline": "middle", "titleAlign": "center", "titleAngle": -90}},
        "color": {"field": "series", "type": "nominal",
          "scale": {"domain": ["Standard 1 ppm", "Standard 10 ppm", "Standard 20 ppm", "Standard 100 ppm", "Sample 1", "Sample 2", "Sample 3", "Sample 4"],
            "range": ["#0D3A5E", "#0070C0", "#5AADDE", "#8DCFF2", "#8C1305", "#E5210F", "#F06A5C", "#FDBBA8"]},
          "legend": {"legendX": 1552.6, "legendY": 118, "labelOffset": 1.4}}
      }
    },
    {
      "width": 1180, "height": 783,
      "title": {"text": "Copper at 327.393 nm", "dx": 17, "dy": 133},
      "layer": [
        {
          "data": {"name": "cu_fit"},
          "mark": {"type": "line", "color": "#4472C4", "strokeWidth": 3.5, "strokeDash": [3.5, 4.5]},
          "encoding": {
            "x": {"field": "conc", "type": "quantitative", "scale": {"domain": [0, 118.1], "range": [198.5, 1153], "nice": false, "zero": false},
              "axis": {"orient": "top", "title": "Concentration (ppm)", "values": [0, 20, 40, 60, 80, 100],
                "labelPadding": -672.7, "labelBaseline": "middle", "titleX": 683, "titleY": 717.7, "titleBaseline": "middle", "titleAlign": "center"}},
            "y": {"field": "intensity", "type": "quantitative", "scale": {"domain": [0, 16000000], "range": [640.5, 168], "nice": false, "zero": false},
              "axis": {"title": "Intensity", "values": [0, 2000000, 4000000, 6000000, 8000000, 10000000, 12000000, 14000000, 16000000],
                "labelExpr": "replace(replace(replace(format(datum.value, '.2e'), '−', '-'), regexp('e[+]([0-9])$'), 'E+0$1'), regexp('e-([0-9])$'), 'E-0$1')",
                "labelPadding": -174, "titleX": 55, "titleY": 404, "titleBaseline": "middle", "titleAlign": "center", "titleAngle": -90}}
          }
        },
        {
          "data": {"name": "cu_cal"},
          "mark": {"type": "circle", "color": "#4472C4", "size": 190, "opacity": 1},
          "encoding": {
            "x": {"field": "conc", "type": "quantitative"},
            "y": {"field": "intensity", "type": "quantitative"}
          }
        },
        {
          "data": {"name": "cu_eq"},
          "mark": {"type": "text", "fontSize": 22, "color": "#595959", "font": "Liberation Sans", "align": "center", "baseline": "middle"},
          "encoding": {
            "x": {"field": "conc", "type": "quantitative"},
            "y": {"field": "intensity", "type": "quantitative"},
            "text": {"field": "label"}
          }
        }
      ]
    }
  ]
}
